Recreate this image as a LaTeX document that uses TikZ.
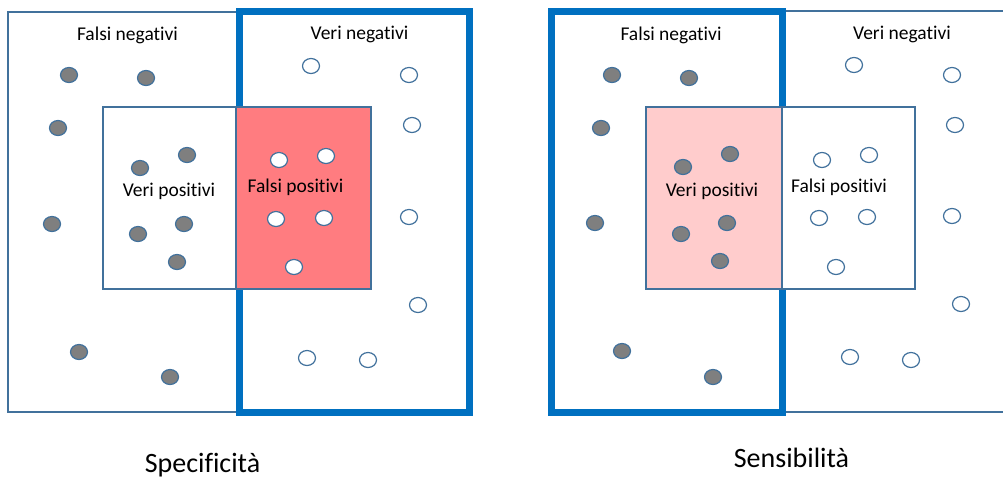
\documentclass[tikz,border=0pt]{standalone}
\usepackage{fontspec}
\setmainfont{Carlito}[Ligatures={NoCommon}]
\usetikzlibrary{shapes.geometric}
\definecolor{thinblue}{HTML}{41719C}
\definecolor{thickblue}{HTML}{0070C0}
\definecolor{redfill}{HTML}{FF7C80}
\definecolor{pinkfill}{HTML}{FFCCCC}
\definecolor{dotgray}{HTML}{7F7F7F}
\begin{document}
\begin{tikzpicture}[x=1pt,y=-1pt,
  thinrect/.style={draw=thinblue,line width=1.3pt},
  thickrect/.style={draw=thickblue,line width=7pt},
  posdot/.style={ellipse,minimum width=17pt,minimum height=15pt,inner sep=0pt,draw=thinblue,line width=1.2pt,fill=dotgray},
  negdot/.style={ellipse,minimum width=17pt,minimum height=15pt,inner sep=0pt,draw=thinblue,line width=1.2pt,fill=white},
  lab/.style={font=\fontsize{19.5}{23}\selectfont,inner sep=0pt,anchor=base},
  titlelab/.style={font=\fontsize{28}{33}\selectfont,inner sep=0pt,anchor=base}]
\useasboundingbox[fill=white] (0,0) rectangle (1003,477);
% ---------- Left diagram: Specificita ----------
\draw[thinrect] (8,12) rectangle (237,412);
\draw[thickrect] (239.5,11.5) rectangle (469.5,412.5);
\draw[thinrect,fill=white] (103,107) rectangle (236,289);
\draw[thinrect,fill=redfill] (236,107) rectangle (371,289);
% dots
\node[posdot] (l1) at (69,75) {};
\node[posdot] (l2) at (146,78) {};
\node[posdot] (l3) at (58,128) {};
\node[posdot] (l4) at (52,224) {};
\node[posdot] (l5) at (79,352) {};
\node[posdot] (l6) at (170,377) {};
\node[posdot] (l7) at (187,155) {};
\node[posdot] (l8) at (140,168) {};
\node[posdot] (l9) at (184,224) {};
\node[posdot] (l10) at (138,234) {};
\node[posdot] (l11) at (177,262) {};
\node[negdot] (l12) at (279,160) {};
\node[negdot] (l13) at (326,156) {};
\node[negdot] (l14) at (276,219) {};
\node[negdot] (l15) at (324,218) {};
\node[negdot] (l16) at (294,267) {};
\node[negdot] (l17) at (311,66) {};
\node[negdot] (l18) at (409,75) {};
\node[negdot] (l19) at (412,125) {};
\node[negdot] (l20) at (409,217) {};
\node[negdot] (l21) at (418,305) {};
\node[negdot] (l22) at (307,358) {};
\node[negdot] (l23) at (368,360) {};
\node[lab] (lfn) at (127.5,40) {Falsi negativi};
\node[lab] (lvn) at (359.5,39) {Veri negativi};
\node[lab] (lvp) at (169,196) {Veri positivi};
\node[lab] (lfp) at (295.5,192) {Falsi positivi};
\node[titlelab] (spec) at (202.5,472) {Specificità};
% ---------- Right diagram: Sensibilita ----------
\draw[thinrect] (782,11) rectangle (1015,412);
\draw[thickrect] (551.5,11.5) rectangle (782.5,412.5);
\draw[thinrect,fill=pinkfill] (646,107) rectangle (782,289);
\draw[thinrect,fill=white] (782,107) rectangle (915,289);
\node[posdot] (r1) at (612,75) {};
\node[posdot] (r2) at (689,78) {};
\node[posdot] (r3) at (601,128) {};
\node[posdot] (r4) at (595,223) {};
\node[posdot] (r5) at (622,351) {};
\node[posdot] (r6) at (713,377) {};
\node[posdot] (r7) at (730,154) {};
\node[posdot] (r8) at (683,167) {};
\node[posdot] (r9) at (727,223) {};
\node[posdot] (r10) at (681,234) {};
\node[posdot] (r11) at (720,261) {};
\node[negdot] (r12) at (822,160) {};
\node[negdot] (r13) at (869,155) {};
\node[negdot] (r14) at (819,218) {};
\node[negdot] (r15) at (867,217) {};
\node[negdot] (r16) at (836,267) {};
\node[negdot] (r17) at (854,65) {};
\node[negdot] (r18) at (952,75) {};
\node[negdot] (r19) at (955,125) {};
\node[negdot] (r20) at (952,216) {};
\node[negdot] (r21) at (961,304) {};
\node[negdot] (r22) at (850,357) {};
\node[negdot] (r23) at (911,360) {};
\node[lab] (rfn) at (671,40) {Falsi negativi};
\node[lab] (rvn) at (902,39) {Veri negativi};
\node[lab] (rvp) at (712,196) {Veri positivi};
\node[lab] (rfp) at (839,192) {Falsi positivi};
\node[titlelab] (sens) at (791.5,467) {Sensibilità};
\end{tikzpicture}
\end{document}
